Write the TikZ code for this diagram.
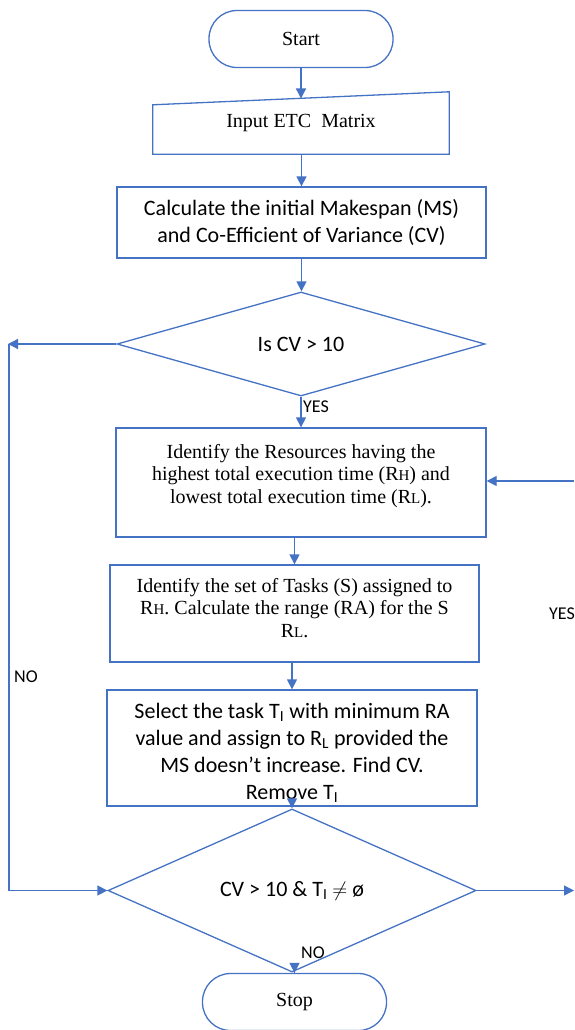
\documentclass[tikz,border=0pt]{standalone}
\usepackage{fontspec}
\setmainfont{Liberation Serif}
\newfontfamily\calfont{Carlito}
\usetikzlibrary{arrows.meta,shapes.geometric,calc}
\definecolor{fblue}{HTML}{4472C4}
\newcommand{\smallsub}[1]{{\fontsize{15}{15}\selectfont #1}}
\tikzset{
 line/.style={draw=fblue, line width=1.3pt},
 arr/.style={draw=fblue, line width=1.3pt, -{Triangle[length=10pt,width=10pt]}},
 term/.style={line, rectangle, rounded corners=28pt, minimum width=184pt, minimum height=57pt, inner sep=0pt, font=\fontsize{20}{22}\selectfont},
 box/.style={line, rectangle, minimum width=370pt, inner sep=0pt},
 dec/.style={line, diamond, minimum width=368pt, minimum height=104pt, inner sep=0pt, font=\calfont\fontsize{22}{27}\selectfont},
 serif/.style={align=center, font=\fontsize{20}{22.5}\selectfont, inner sep=0pt},
 sans/.style={align=center, font=\calfont\fontsize{22}{27}\selectfont, inner sep=0pt},
 lab/.style={font=\calfont\fontsize{18}{18}\selectfont, inner sep=0pt},
}
\begin{document}
\begin{tikzpicture}[x=1pt,y=-1pt]
\useasboundingbox (0,0) rectangle (574,1030);
% nodes
\node[term] (start) at (301,39) {Start};
\node[inner sep=0pt, minimum width=296pt, minimum height=62pt, font=\fontsize{20}{22}\selectfont] (inp) at (301,123) {Input ETC\ \ Matrix};
\draw[line] (inp.south west) -- (inp.south east) -- (inp.north east) -- ($(inp.north west)+(0,13)$) -- cycle;
\coordinate (inptop) at (301,98.5);
\node[box, sans, minimum width=369pt, minimum height=71pt] (calc) at (301.5,222.5) {Calculate the initial Makespan (MS)\\and Co-Efficient of Variance (CV)};
\node[dec] (d1) at (301,344) {Is CV > 10};
\node[box, minimum height=109pt] (id) at (301,482.5) {};
\node[serif] (idtext) at (301,476) {Identify the Resources having the\\highest total execution time (R\smallsub{H}) and\\lowest total execution time (R\smallsub{L}).};
\node[box, minimum width=369pt, minimum height=97pt] (tasks) at (294.5,613.5) {};
\node[serif] (taskstext) at (294.5,608) {Identify the set of Tasks (S) assigned to\\R\smallsub{H}. Calculate the range (RA) for the S\\R\smallsub{L}.};
\node[box, minimum height=116pt] (sel) at (292,748) {};
\node[sans] (seltext) at (292,753) {Select the task T\textsubscript{I} with minimum RA\\value and assign to R\textsubscript{L} provided the\\MS doesn’t increase. Find CV.\\Remove T\textsubscript{I}};
\node[dec, minimum height=105pt] (d2) at (292,890.5) {CV > 10 \& T\textsubscript{I} $\neq$ ø};
\node[term] (stop) at (294.5,1002) {Stop};
% labels
\node[lab, anchor=west] (yes1) at (303,407) {YES};
\node[lab, anchor=west] (no1) at (14,677) {NO};
\node[lab, anchor=west] (yes2) at (549,614) {YES};
\node[lab, anchor=west] (no2) at (301,953) {NO};
% coordinates
\coordinate (L1) at (8,344);
\coordinate (L2) at (9,890.5);
\coordinate (R1) at (574,481);
\coordinate (R2) at (574,890.5);
% connectors
\draw[arr] (start.south) -- (start.south |- inptop);
\draw[arr] (inp.south -| calc.north) -- (calc.north);
\draw[arr] (calc.south) -- (calc.south |- d1.north);
\draw[arr] (d1.south) -- (id.north);
\draw[arr] (id.south -| tasks.north) -- (tasks.north);
\draw[arr] (tasks.south -| sel.north) -- (sel.north);
\draw[arr] (sel.south) -- (d2.north);
\draw[arr] (d2.south -| stop.north) -- (stop.north);
\draw[arr] (d1.west) -- (L1);
\draw[arr] (9,344) -- (L2) -- (d2.west);
\draw[arr] (R1) -- (R1 -| id.east);
\draw[arr] (d2.east) -- (R2);
\end{tikzpicture}
\end{document}
